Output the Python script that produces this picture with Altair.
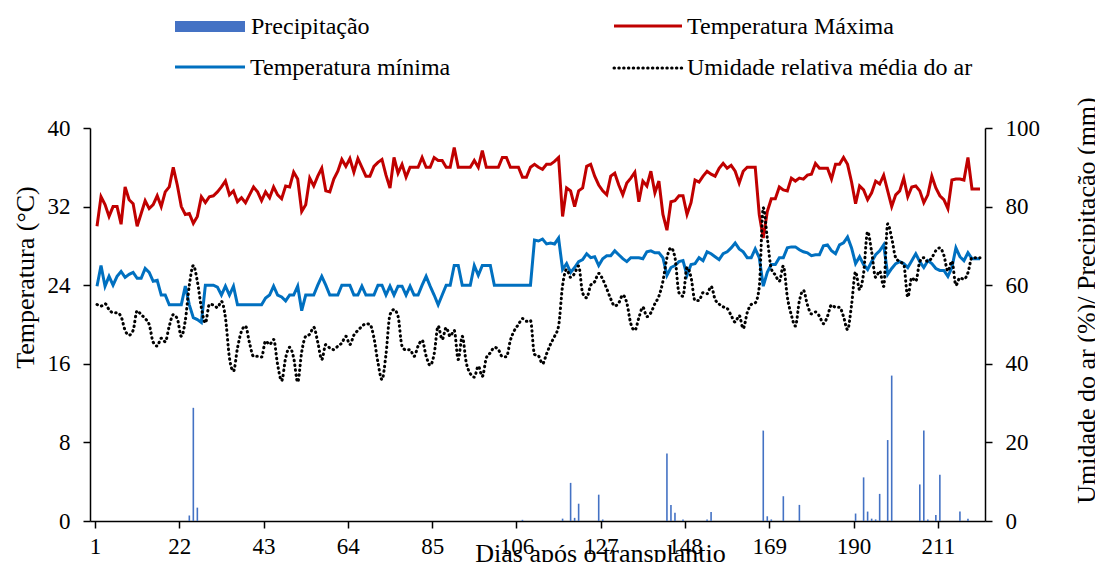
import altair as alt
import pandas as pd

days = list(range(1, 222))

tmax = [30.0, 33.0, 32.2, 31.0, 32.0, 32.0, 30.2, 34.0, 32.7, 32.3,
        30.0, 31.3, 32.6, 31.8, 32.2, 33.1, 32.0, 33.5, 34.0, 36.0,
        34.2, 32.0, 31.2, 31.3, 30.3, 31.0, 33.0, 32.4, 33.0, 33.1,
        33.5, 34.0, 34.6, 33.2, 33.6, 32.5, 32.9, 32.4, 33.2, 34.0,
        33.5, 32.6, 33.5, 32.9, 34.0, 33.2, 32.8, 34.1, 34.0, 35.5,
        34.8, 31.5, 32.2, 34.9, 34.1, 35.1, 35.9, 33.6, 33.5, 34.8,
        35.6, 36.8, 36.1, 36.9, 35.5, 36.9, 36.0, 35.1, 35.1, 36.1,
        36.5, 36.8, 35.2, 33.9, 37.0, 35.4, 36.3, 35.0, 36.0, 36.0,
        36.0, 37.0, 36.0, 36.0, 37.0, 36.7, 36.7, 36.0, 36.0, 38.0,
        36.0, 36.0, 36.0, 36.0, 36.7, 36.0, 37.7, 36.0, 36.0, 36.0,
        36.0, 37.0, 37.0, 36.0, 36.0, 36.0, 35.0, 35.0, 36.0, 36.3,
        36.0, 35.8, 36.3, 36.3, 36.6, 37.0, 31.0, 33.9, 33.6, 32.0,
        33.6, 33.9, 36.1, 36.3, 35.1, 34.2, 33.6, 33.2, 35.1, 35.4,
        34.2, 33.2, 34.4, 34.9, 35.5, 32.5, 34.6, 34.1, 35.6, 33.4,
        34.6, 31.2, 29.6, 32.5, 32.6, 33.1, 33.1, 31.2, 32.4, 34.7,
        34.5, 35.1, 35.6, 35.3, 35.1, 35.9, 36.4, 35.9, 36.2, 35.6,
        34.4, 35.6, 36.0, 36.0, 36.0, 31.2, 28.8, 31.5, 32.8, 32.8,
        34.0, 33.7, 33.6, 34.9, 34.6, 34.9, 34.8, 35.2, 35.3, 36.4,
        35.9, 35.9, 35.9, 34.8, 36.3, 36.3, 37.0, 36.3, 34.5, 32.3,
        34.1, 33.7, 32.7, 33.4, 34.6, 34.3, 35.2, 33.6, 32.0, 33.2,
        33.6, 34.9, 33.0, 34.0, 34.1, 33.6, 32.4, 33.2, 35.1, 33.9,
        33.1, 32.7, 31.8, 34.7, 34.8, 34.8, 34.7, 37.0, 33.8, 33.8,
        33.8]

tmin = [23.9, 26.0, 23.9, 24.9, 24.0, 24.9, 25.4, 24.8, 25.1, 25.3,
        24.7, 24.7, 25.7, 25.3, 24.4, 24.5, 23.0, 23.0, 22.0, 22.0,
        22.0, 22.0, 23.9, 22.0, 20.7, 20.5, 20.2, 24.0, 24.0, 24.0,
        23.8, 23.0, 23.9, 23.0, 23.9, 22.0, 22.0, 22.0, 22.0, 22.0,
        22.0, 22.0, 22.7, 23.0, 23.9, 23.0, 22.8, 22.4, 23.0, 23.0,
        23.9, 21.4, 23.0, 23.0, 23.0, 24.0, 24.9, 24.0, 23.0, 23.0,
        23.0, 24.0, 24.0, 24.0, 23.0, 23.0, 23.9, 23.0, 23.0, 23.0,
        24.0, 24.0, 23.0, 23.9, 23.0, 23.9, 23.9, 23.0, 23.9, 23.0,
        23.0, 24.0, 24.9, 23.9, 23.0, 22.0, 23.0, 24.0, 24.0, 26.0,
        26.0, 24.0, 24.0, 24.0, 26.0, 25.0, 26.0, 26.0, 26.0, 24.0,
        24.0, 24.0, 24.0, 24.0, 24.0, 24.0, 24.0, 24.0, 24.0, 28.6,
        28.5, 28.7, 28.2, 28.3, 28.2, 28.8, 25.6, 26.2, 25.3, 25.8,
        26.4, 26.6, 27.2, 26.8, 26.9, 26.0, 26.7, 27.0, 27.0, 27.5,
        27.1, 26.7, 26.4, 26.8, 26.8, 26.8, 26.7, 27.4, 27.5, 27.3,
        27.3, 26.8, 25.0, 25.8, 26.0, 26.4, 26.5, 25.0, 26.1, 26.2,
        26.8, 26.5, 27.4, 27.2, 26.9, 26.6, 27.2, 27.4, 27.8, 28.3,
        27.7, 27.4, 26.8, 26.8, 27.7, 26.8, 23.9, 25.3, 26.1, 26.1,
        26.8, 26.8, 27.8, 27.9, 27.9, 27.6, 27.4, 27.3, 27.0, 27.1,
        27.1, 28.0, 28.1, 27.5, 27.2, 28.1, 28.3, 28.9, 27.8, 26.2,
        26.9, 26.1, 25.6, 26.4, 27.1, 27.5, 28.1, 25.1, 25.7, 26.2,
        26.4, 26.2, 25.8, 26.5, 27.2, 26.4, 25.8, 26.5, 26.2, 25.7,
        25.5, 25.5, 24.9, 25.8, 27.8, 26.9, 26.5, 27.3, 26.7, 26.7,
        26.7]

umidade = [55.1, 54.7, 55.3, 53.8, 53.0, 53.0, 52.0, 48.5, 47.3, 48.5,
           53.5, 52.5, 51.5, 50.0, 45.5, 44.5, 46.5, 45.6, 49.6, 52.5,
           51.5, 47.0, 51.0, 60.0, 65.0, 61.0, 54.3, 50.4, 55.1, 55.0,
           54.3, 55.9, 51.7, 41.5, 38.1, 44.0, 48.3, 49.6, 45.3, 41.9,
           41.9, 41.7, 45.8, 44.9, 46.2, 39.8, 35.7, 41.5, 44.2, 41.5,
           35.4, 43.0, 47.0, 47.5, 49.3, 45.5, 41.1, 44.9, 44.0, 43.6,
           44.5, 45.3, 47.0, 44.9, 47.3, 48.5, 49.5, 50.2, 50.0, 46.6,
           40.3, 36.0, 42.4, 52.5, 53.8, 52.1, 44.5, 43.5, 43.6, 41.9,
           44.5, 46.0, 42.0, 39.6, 42.5, 49.6, 46.2, 49.2, 47.0, 48.5,
           41.1, 47.0, 40.3, 37.5, 36.6, 39.4, 36.8, 41.5, 42.8, 44.2,
           43.6, 41.8, 41.8, 46.0, 48.5, 50.0, 51.5, 50.8, 51.0, 42.4,
           42.0, 40.0, 42.5, 45.0, 47.0, 49.6, 59.9, 64.0, 62.0, 63.0,
           64.9, 58.0, 56.8, 60.0, 60.9, 63.0, 61.5, 59.1, 56.5, 54.7,
           55.5, 57.5, 55.5, 50.2, 48.5, 51.7, 54.4, 52.0, 53.0, 55.3,
           57.2, 61.0, 67.0, 69.5, 67.0, 58.1, 57.2, 64.5, 62.0, 56.1,
           56.1, 58.1, 57.8, 59.7, 56.4, 55.2, 54.5, 54.1, 52.3, 50.6,
           52.3, 49.0, 53.0, 55.1, 55.5, 59.5, 79.7, 72.0, 64.2, 62.6,
           61.0, 64.9, 57.0, 52.4, 49.6, 56.0, 58.7, 55.0, 52.7, 53.2,
           52.1, 50.2, 52.1, 55.0, 54.4, 54.4, 52.0, 48.7, 55.0, 63.4,
           58.9, 63.1, 73.6, 68.5, 62.0, 63.6, 59.7, 75.6, 72.0, 67.0,
           66.0, 65.3, 57.0, 61.9, 61.0, 66.0, 67.0, 66.0, 67.0, 68.8,
           69.5, 67.6, 63.6, 66.1, 60.0, 61.9, 61.5, 63.2, 67.0, 67.0,
           67.0]

precip_days = [24, 25, 26, 107, 117, 119, 120, 121, 126, 127, 143, 144, 145,
               147, 153, 154, 167, 168, 169, 172, 176, 190, 192, 193, 194,
               195, 196, 198, 199, 206, 207, 208, 210, 211, 216, 218]
precip_mm = [1.4, 28.8, 3.4, 0.3, 0.6, 9.7, 0.8, 4.4, 6.7, 0.4, 17.2, 4.1, 2.1,
             0.4, 0.4, 2.3, 23.0, 1.2, 0.4, 6.3, 4.1, 1.9, 11.1, 2.4, 0.6,
             0.4, 6.9, 20.6, 37.0, 9.3, 23.0, 0.4, 1.5, 11.8, 2.4, 0.6]

x_ticks = [1, 22, 43, 64, 85, 106, 127, 148, 169, 190, 211]
temp_ticks = [0, 8, 16, 24, 32, 40]
right_ticks = [0, 20, 40, 60, 80, 100]

legend_labels = ["Precipitação", "Temperatura Máxima",
                 "Temperatura mínima", "Umidade relativa média do ar"]

FONT = "Liberation Serif"
C_PREC = "#4472C4"
C_TMAX = "#C00000"
C_TMIN = "#0070C0"

df = pd.DataFrame({"day": days, "tmax": tmax, "tmin": tmin, "hum": umidade})
pdf = pd.DataFrame({"day": precip_days, "mm": precip_mm})

axis_common = dict(
    labelFont=FONT, labelFontSize=23, labelColor="black",
    titleFont=FONT, titleFontSize=26, titleColor="black", titleFontWeight="normal",
    domainColor="black", domainWidth=1.5, tickColor="black", tickWidth=1.5,
    tickSize=7, grid=False,
)

x_enc = alt.X(
    "day:Q",
    scale=alt.Scale(domain=[0.5, 221], nice=False, zero=False),
    axis=alt.Axis(
        values=[v - 0.5 for v in x_ticks],
        labelExpr="format(datum.value + 0.5, 'd')",
        title="Dias após o transplantio",
        titleX=510, titleY=40, titleBaseline="alphabetic", titleAlign="center",
        labelPadding=7, labelFlush=False, labelOverlap=False,
        **axis_common,
    ),
)

bars = alt.Chart(pdf).mark_bar(size=1.6, color=C_PREC).encode(
    x=x_enc,
    y=alt.Y(
        "mm:Q",
        scale=alt.Scale(domain=[0, 100], nice=False),
        axis=alt.Axis(
            orient="right", values=right_ticks,
            title="Umidade do ar (%)/ Precipitação (mm)",
            titleAngle=270, titleX=109, titleY=172, titleBaseline="alphabetic",
            titleAlign="center", labelPadding=13,
            **axis_common,
        ),
    ),
)

line_tmax = alt.Chart(df).mark_line(color=C_TMAX, strokeWidth=3).encode(
    x=x_enc,
    y=alt.Y(
        "tmax:Q",
        scale=alt.Scale(domain=[0, 40], nice=False),
        axis=alt.Axis(
            orient="left", values=temp_ticks, title="Temperatura (°C)",
            titleAngle=270, titleX=-57, titleY=149, titleBaseline="alphabetic",
            titleAlign="center", labelPadding=13,
            **axis_common,
        ),
    ),
)

line_tmin = alt.Chart(df).mark_line(color=C_TMIN, strokeWidth=3).encode(
    x=x_enc,
    y=alt.Y("tmin:Q", scale=alt.Scale(domain=[0, 40], nice=False), axis=None),
)

line_hum = alt.Chart(df).mark_line(
    color="black", strokeWidth=3, strokeDash=[0.5, 4.3], strokeCap="round",
    interpolate="monotone",
).encode(
    x=x_enc,
    y=alt.Y("hum:Q", scale=alt.Scale(domain=[0, 100], nice=False), axis=None),
)

one = pd.DataFrame({"a": [0]})


def leg_text(label, x, y):
    return alt.Chart(one).mark_text(
        text=label, font=FONT, fontSize=24, align="left", baseline="alphabetic",
        color="black",
    ).encode(x=alt.value(x), y=alt.value(y))


leg_prec = alt.Chart(one).mark_rect(color=C_PREC).encode(
    x=alt.value(85), x2=alt.value(155), y=alt.value(-107), y2=alt.value(-96)
)
leg_tmax = alt.Chart(one).mark_rule(color=C_TMAX, strokeWidth=3).encode(
    x=alt.value(524), x2=alt.value(592), y=alt.value(-102)
)
leg_tmin = alt.Chart(one).mark_rule(color=C_TMIN, strokeWidth=3).encode(
    x=alt.value(85), x2=alt.value(155), y=alt.value(-61)
)
leg_hum = alt.Chart(one).mark_rule(
    color="black", strokeWidth=3, strokeDash=[0.5, 4.3], strokeCap="round"
).encode(x=alt.value(524), x2=alt.value(592), y=alt.value(-60))

chart = alt.layer(
    bars, line_tmax, line_tmin, line_hum,
    leg_prec, leg_tmax, leg_tmin, leg_hum,
    leg_text(legend_labels[0], 161, -94),
    leg_text(legend_labels[1], 597, -94),
    leg_text(legend_labels[2], 160, -53),
    leg_text(legend_labels[3], 597, -53),
).resolve_scale(y="independent").properties(
    width=895, height=393,
    padding={"left": 82, "top": 120, "right": 110, "bottom": 41},
    autosize=alt.AutoSizeParams(type="none"),
    background="white",
).configure_view(stroke=None)

chart.save("out.html", embed_options={"renderer": "svg", "actions": False})
